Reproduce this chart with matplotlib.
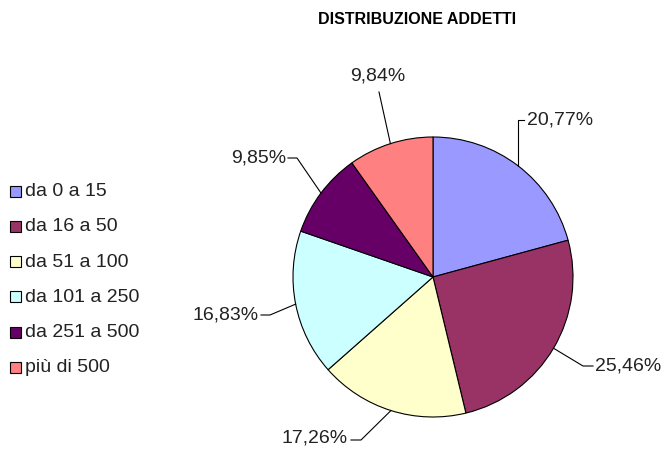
import numpy as np
import matplotlib
matplotlib.use("Agg")
import matplotlib.pyplot as plt
from matplotlib.patches import Rectangle

# data
categories = ["da 0 a 15", "da 16 a 50", "da 51 a 100", "da 101 a 250", "da 251 a 500", "più di 500"]
values = [20.77, 25.46, 17.26, 16.83, 9.85, 9.84]
labels = ["20,77%", "25,46%", "17,26%", "16,83%", "9,85%", "9,84%"]
colors = ["#9999FF", "#993366", "#FFFFCC", "#CCFFFF", "#660066", "#FF8080"]

plt.rcParams["font.family"] = ["Liberation Sans", "DejaVu Sans"]

W, H = 661, 455
fig = plt.figure(figsize=(W / 100, H / 100), dpi=100)
ax = fig.add_axes([0, 0, 1, 1])


def Y(y):
    # pixel row (from top) to data y
    return H - y


cx, cy, r = 433, 277, 140
wedges, _ = ax.pie(values, colors=colors, startangle=90, counterclock=False,
                   center=(cx, Y(cy)), radius=r, frame=True,
                   wedgeprops=dict(edgecolor="black", linewidth=0.8))
ax.set_xlim(0, W)
ax.set_ylim(0, H)
ax.axis("off")

# leader line bends (pixel coords, from the slice edge outwards) and text spots
label_layout = [
    ([(None, 120), (524, 120)], (527, 120), "left", "center"),
    ([(583, 366), (593, 366)], (595, 366), "left", "center"),
    ([(361, 440), (351, 440)], (348, 438), "right", "center"),
    ([(270, 315), (261, 315)], (259, 315), "right", "center"),
    ([(297, 158), (288, 158)], (286, 158), "right", "center"),
    ([(379, 92)], (378, 76), "center", "center"),
]

total = sum(values)
cum = np.cumsum([0] + values)
for i, (bends, (tx, ty), ha, va) in enumerate(label_layout):
    mid = (cum[i] + cum[i + 1]) / 2 / total * 360
    ang = np.deg2rad(90 - mid)
    ex = cx + r * np.cos(ang)
    ey = cy - r * np.sin(ang)
    xs, ys = [ex], [ey]
    for bx, by in bends:
        xs.append(ex if bx is None else bx)
        ys.append(by)
    ax.plot(xs, [Y(v) for v in ys], color="black", linewidth=0.8)
    ax.text(tx, Y(ty), labels[i], ha=ha, va=va, fontsize=14, color="#222222")

# title
ax.text(417, Y(19), "DISTRIBUZIONE ADDETTI", ha="center", va="center",
        fontsize=11.5, fontweight="bold")

# legend
for i, cat in enumerate(categories):
    y = 191.5 + i * 35.3
    ax.add_patch(Rectangle((10, Y(y) - 5), 11, 11, facecolor=colors[i],
                           edgecolor="black", linewidth=0.8))
    ax.text(25, Y(y), cat, ha="left", va="center", fontsize=14, color="#222222")

fig.savefig("out.png", dpi=100)
